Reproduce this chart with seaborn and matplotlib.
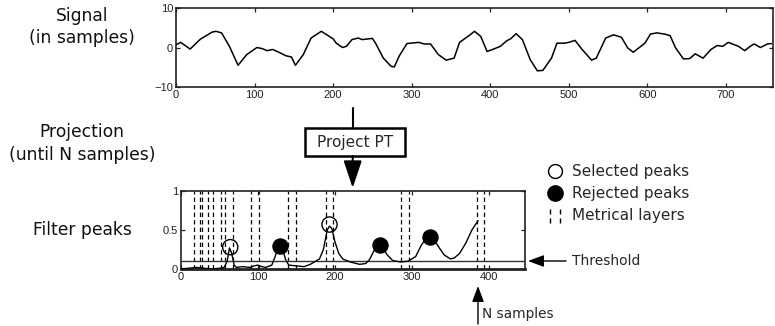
import numpy as np
import pandas as pd
import matplotlib
matplotlib.use("Agg")
import matplotlib.pyplot as plt
from matplotlib.lines import Line2D
from matplotlib.path import Path
from matplotlib.patches import FancyArrowPatch, Rectangle
import seaborn as sns

# ---------------- data ----------------
signal_x = [0, 6, 18, 31, 46, 51, 58, 68, 79, 90, 103, 110, 116, 123, 130, 140, 147, 152,
            162, 172, 185, 192, 200, 204, 212, 217, 224, 232, 237, 250, 254, 264, 274, 278,
            284, 294, 309, 316, 324, 334, 344, 354, 361, 373, 380, 388, 396, 403, 413, 421,
            426, 433, 441, 451, 460, 467, 478, 485, 495, 500, 508, 517, 529, 535, 547, 557,
            567, 575, 582, 597, 604, 612, 622, 629, 636, 646, 654, 661, 671, 681, 689, 696,
            703, 716, 724, 731, 736, 744, 753, 758]
signal_y = [0.7, 1.3, -0.4, 2.1, 3.9, 4.1, 3.7, 0.3, -4.5, -1.8, 0.0, -0.3, -0.8, -0.5, -1.1,
            -2.1, -2.4, -4.5, -1.8, 2.4, 4.1, 3.2, 2.2, 1.1, 0.0, 0.3, 2.0, 2.4, 2.0, 2.3, 1.1,
            -2.7, -4.8, -4.9, -2.2, 1.0, 1.3, 0.9, 0.9, -1.8, -3.2, -2.7, 1.3, 3.0, 4.1, 2.8,
            -1.0, -0.5, 0.3, 1.7, 2.2, 3.5, 2.0, -3.1, -5.9, -5.8, -2.7, 1.1, 1.1, 1.3, 1.8,
            -0.5, -3.2, -2.7, 2.4, 3.2, 2.6, -0.1, -1.2, 1.1, 3.4, 3.7, 3.4, 3.0, -0.1, -2.9,
            -2.8, -1.6, -2.7, -0.5, 0.5, 0.3, 1.3, 0.3, -0.8, 0.3, 0.9, 0.0, 0.9, 1.0]

proj_x = [0, 10, 20, 30, 40, 50, 56, 60, 63, 66, 69, 72, 80, 90, 95, 100, 105, 110, 118,
          122, 126, 129, 132, 136, 140, 150, 160, 168, 175, 180, 185, 190, 193, 196, 200,
          205, 210, 220, 232, 240, 245, 250, 255, 258, 262, 268, 275, 285, 295, 305, 312,
          318, 323, 328, 335, 342, 350, 355, 362, 370, 378, 386]
proj_y = [0.0, 0.01, 0.02, 0.01, 0.0, 0.01, 0.02, 0.1, 0.27, 0.2, 0.05, 0.02, 0.03, 0.02,
          0.04, 0.05, 0.03, 0.02, 0.05, 0.15, 0.27, 0.3, 0.25, 0.12, 0.05, 0.04, 0.03, 0.06,
          0.1, 0.13, 0.25, 0.5, 0.55, 0.52, 0.35, 0.2, 0.13, 0.09, 0.06, 0.07, 0.12, 0.22,
          0.3, 0.31, 0.28, 0.18, 0.11, 0.09, 0.1, 0.16, 0.3, 0.39, 0.41, 0.39, 0.28, 0.18,
          0.13, 0.14, 0.2, 0.33, 0.5, 0.62]

selected_x = [64, 193]
selected_y = [0.28, 0.57]
rejected_x = [129, 258, 323]
rejected_y = [0.29, 0.31, 0.41]
layers_x = [17, 25, 27, 35.5, 41, 51.5, 57, 68, 90.5, 101, 139, 149, 188, 198, 286.5, 296, 384, 394]
threshold = 0.1
n_samples = 386

top_xticks = [0, 100, 200, 300, 400, 500, 600, 700]
top_yticks = [-10, 0, 10]
bot_xticks = [0, 100, 200, 300, 400]
bot_yticks = [0, 0.5, 1]
bot_yticklabels = ["0", "0.5", "1"]

# ---------------- style ----------------
sns.set_style("ticks")
plt.rcParams['font.family'] = ['DejaVu Sans']
W, H = 775, 326
fig = plt.figure(figsize=(W / 100, H / 100), dpi=100)


def fx(px):
    return px / W


def fy(py):
    return 1 - py / H


def style_axes(ax):
    for s in ax.spines.values():
        s.set_linewidth(1.2)
        s.set_color('#222222')
    ax.tick_params(direction='in', length=3, width=0.9, top=True, right=True,
                   labelsize=8, pad=2, colors='#222222')
    for lab in ax.get_xticklabels() + ax.get_yticklabels():
        lab.set_fontfamily('Liberation Sans')


# top axes: signal
ax1 = fig.add_axes([fx(176), fy(87), fx(773) - fx(176), fy(8) - fy(87)])
sns.lineplot(x=signal_x, y=signal_y, ax=ax1, color='black', linewidth=1.1)
ax1.set_xlim(0, 760)
ax1.set_ylim(-10, 10)
ax1.set_xticks(top_xticks)
ax1.set_yticks(top_yticks)
ax1.set_yticklabels(["\u221210", "0", "10"])
style_axes(ax1)

# bottom axes: projection
ax2 = fig.add_axes([fx(181), fy(269), fx(525) - fx(181), fy(191) - fy(269)])
for lx in layers_x:
    ax2.axvline(lx, color='black', linestyle=(0, (3.5, 2.5)), linewidth=0.9, zorder=1)
ax2.axhline(threshold, color='#333333', linewidth=1.0, zorder=2)
sns.lineplot(x=proj_x, y=proj_y, ax=ax2, color='black', linewidth=1.0, zorder=3)
sns.scatterplot(x=rejected_x, y=rejected_y, ax=ax2, color='black', s=120,
                edgecolor='black', zorder=4)
ax2.scatter(selected_x, selected_y, s=120, facecolors='none', edgecolors='black',
            linewidths=1.0, zorder=4)
ax2.set_xlim(0, 447)
ax2.set_ylim(0, 1)
ax2.set_xticks(bot_xticks)
ax2.set_yticks(bot_yticks)
ax2.set_yticklabels(bot_yticklabels)
style_axes(ax2)
ax2.spines['bottom'].set_linewidth(2.0)

# left labels
lab_kw = dict(ha='center', va='center', fontsize=12.3, color='#111111')
fig.text(fx(82), fy(16), "Signal", **lab_kw)
fig.text(fx(82), fy(38), "(in samples)", **lab_kw)
fig.text(fx(82), fy(132), "Projection", **lab_kw)
fig.text(fx(82), fy(155), "(until N samples)", **lab_kw)
fig.text(fx(82), fy(230), "Filter peaks", **lab_kw)

# Project PT box and arrows
fig.add_artist(Line2D([fx(352.7), fx(352.7)], [fy(108), fy(128)], color='black',
                      linewidth=1.5, transform=fig.transFigure))
fig.add_artist(Rectangle((fx(305), fy(156)), fx(405) - fx(305), fy(128) - fy(156),
                         facecolor='white', edgecolor='black', linewidth=1.8,
                         transform=fig.transFigure))
fig.text(fx(355), fy(142.5), "Project PT", ha='center', va='center', fontsize=11)
fig.add_artist(FancyArrowPatch((fx(352.7), fy(156)), (fx(352.7), fy(188)),
                               transform=fig.transFigure,
                               arrowstyle='-|>,head_length=1.2,head_width=0.4',
                               mutation_scale=14, color='black', linewidth=1.5,
                               shrinkA=0, shrinkB=0))

# Threshold arrow
fig.add_artist(FancyArrowPatch((fx(566), fy(261)), (fx(528), fy(261)),
                               transform=fig.transFigure,
                               arrowstyle='-|>,head_length=0.8,head_width=0.3',
                               mutation_scale=12, color='black', linewidth=1.0,
                               shrinkA=0, shrinkB=0))
fig.text(fx(572), fy(261), "Threshold", ha='left', va='center', fontsize=10)

# N samples arrow
fig.add_artist(FancyArrowPatch((fx(478), fy(324)), (fx(478), fy(286)),
                               transform=fig.transFigure,
                               arrowstyle='-|>,head_length=0.8,head_width=0.3',
                               mutation_scale=12, color='black', linewidth=1.0,
                               shrinkA=0, shrinkB=0))
fig.text(fx(482), fy(314), "N samples", ha='left', va='center', fontsize=9.8)

# legend
dash_path = Path(
    [(-0.6, -1.0), (-0.6, -0.35), (-0.6, 0.15), (-0.6, 0.8),
     (0.6, -1.0), (0.6, -0.35), (0.6, 0.15), (0.6, 0.8)],
    [Path.MOVETO, Path.LINETO, Path.MOVETO, Path.LINETO,
     Path.MOVETO, Path.LINETO, Path.MOVETO, Path.LINETO])
handles = [
    Line2D([], [], marker='o', linestyle='none', markersize=10, markerfacecolor='white',
           markeredgecolor='black', markeredgewidth=1.0),
    Line2D([], [], marker='o', linestyle='none', markersize=11, markerfacecolor='black',
           markeredgecolor='black'),
    Line2D([], [], marker=dash_path, linestyle='none', markersize=11, color='black',
           markeredgewidth=1.0, fillstyle='none'),
]
labels = ["Selected peaks", "Rejected peaks", "Metrical layers"]
fig.legend(handles, labels, loc='upper left', bbox_to_anchor=(fx(546), fy(164)),
           frameon=False, fontsize=11, handlelength=1.2, handletextpad=0.5,
           labelspacing=0.47, borderpad=0, borderaxespad=0)

fig.savefig("out.png", dpi=100)
